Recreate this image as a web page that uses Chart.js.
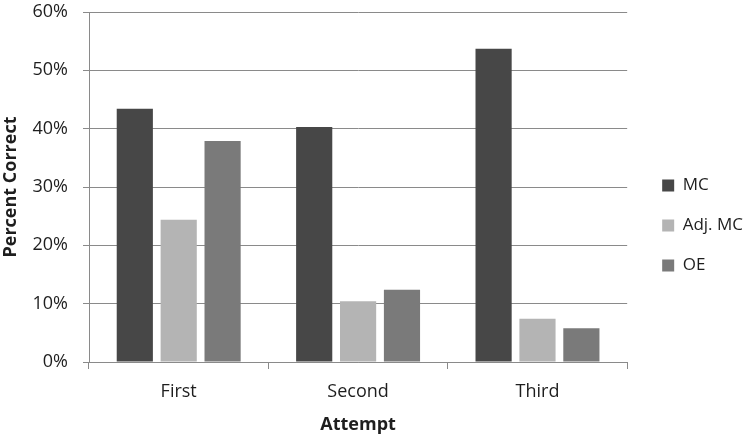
<!DOCTYPE html>
<html>
<head>
<meta charset="utf-8">
<script src="https://cdn.jsdelivr.net/npm/chart.js@4"></script>
<style>
  html, body { margin: 0; padding: 0; background: #fff; }
  #wrap { width: 753px; height: 439px; }
</style>
</head>
<body>
<div id="wrap"><canvas id="chart"></canvas></div>
<script>
// values (percent)
const attempts = ["First", "Second", "Third"];
const mcValues = [43.4, 40.3, 53.7];
const adjMcValues = [24.4, 10.4, 7.4];
const oeValues = [37.9, 12.4, 5.8];

const gridColor = "#8a8a8a";
const textColor = "#1e1e1e";
const fontFamily = "'Open Sans', sans-serif";

const ctx = document.getElementById("chart").getContext("2d");
new Chart(ctx, {
    type: "bar",
    data: {
        labels: attempts,
        datasets: [
            { label: "MC", data: mcValues, backgroundColor: "#474747" },
            { label: "Adj. MC", data: adjMcValues, backgroundColor: "#b4b4b4" },
            { label: "OE", data: oeValues, backgroundColor: "#7a7a7a" }
        ]
    },
    options: {
        responsive: true,
        maintainAspectRatio: false,
        animation: false,
        datasets: {
            bar: { categoryPercentage: 0.734, barPercentage: 0.824 }
        },
        layout: { padding: { top: 12, bottom: 0, left: 0, right: 0 } },
        scales: {
            x: {
                grid: {
                    offset: true,
                    drawOnChartArea: false,
                    drawTicks: true,
                    tickLength: 7,
                    color: gridColor
                },
                border: { color: gridColor, width: 1 },
                ticks: {
                    color: textColor,
                    padding: 12,
                    font: { family: fontFamily, size: 18 }
                },
                title: {
                    display: true,
                    text: "Attempt",
                    color: textColor,
                    padding: { top: 11, bottom: 3 },
                    font: { family: fontFamily, size: 18, weight: "bold" }
                },
                afterFit: s => { s.height = 77; }
            },
            y: {
                min: 0,
                max: 60,
                grid: { color: gridColor, tickLength: 6 },
                border: { color: gridColor, width: 1 },
                ticks: {
                    stepSize: 10,
                    color: textColor,
                    padding: 15,
                    font: { family: fontFamily, size: 18 },
                    callback: v => v + "%"
                },
                title: {
                    display: true,
                    text: "Percent Correct",
                    color: textColor,
                    padding: { top: 0, bottom: 11 },
                    font: { family: fontFamily, size: 18, weight: "bold" }
                },
                afterFit: s => {
                    s.width = 89;
                    s.paddingTop = 0;
                    s.paddingBottom = 0;
                }
            },
            // empty spacer between plot and legend
            gap: {
                type: "linear",
                position: "right",
                display: true,
                grid: { display: false },
                border: { display: false },
                ticks: { display: false },
                afterFit: s => { s.width = 12; }
            }
        },
        plugins: {
            legend: {
                position: "right",
                labels: {
                    boxWidth: 12,
                    boxHeight: 12,
                    padding: 23,
                    color: textColor,
                    font: { family: fontFamily, size: 17 }
                }
            },
            tooltip: { enabled: false }
        }
    }
});
</script>
</body>
</html>
